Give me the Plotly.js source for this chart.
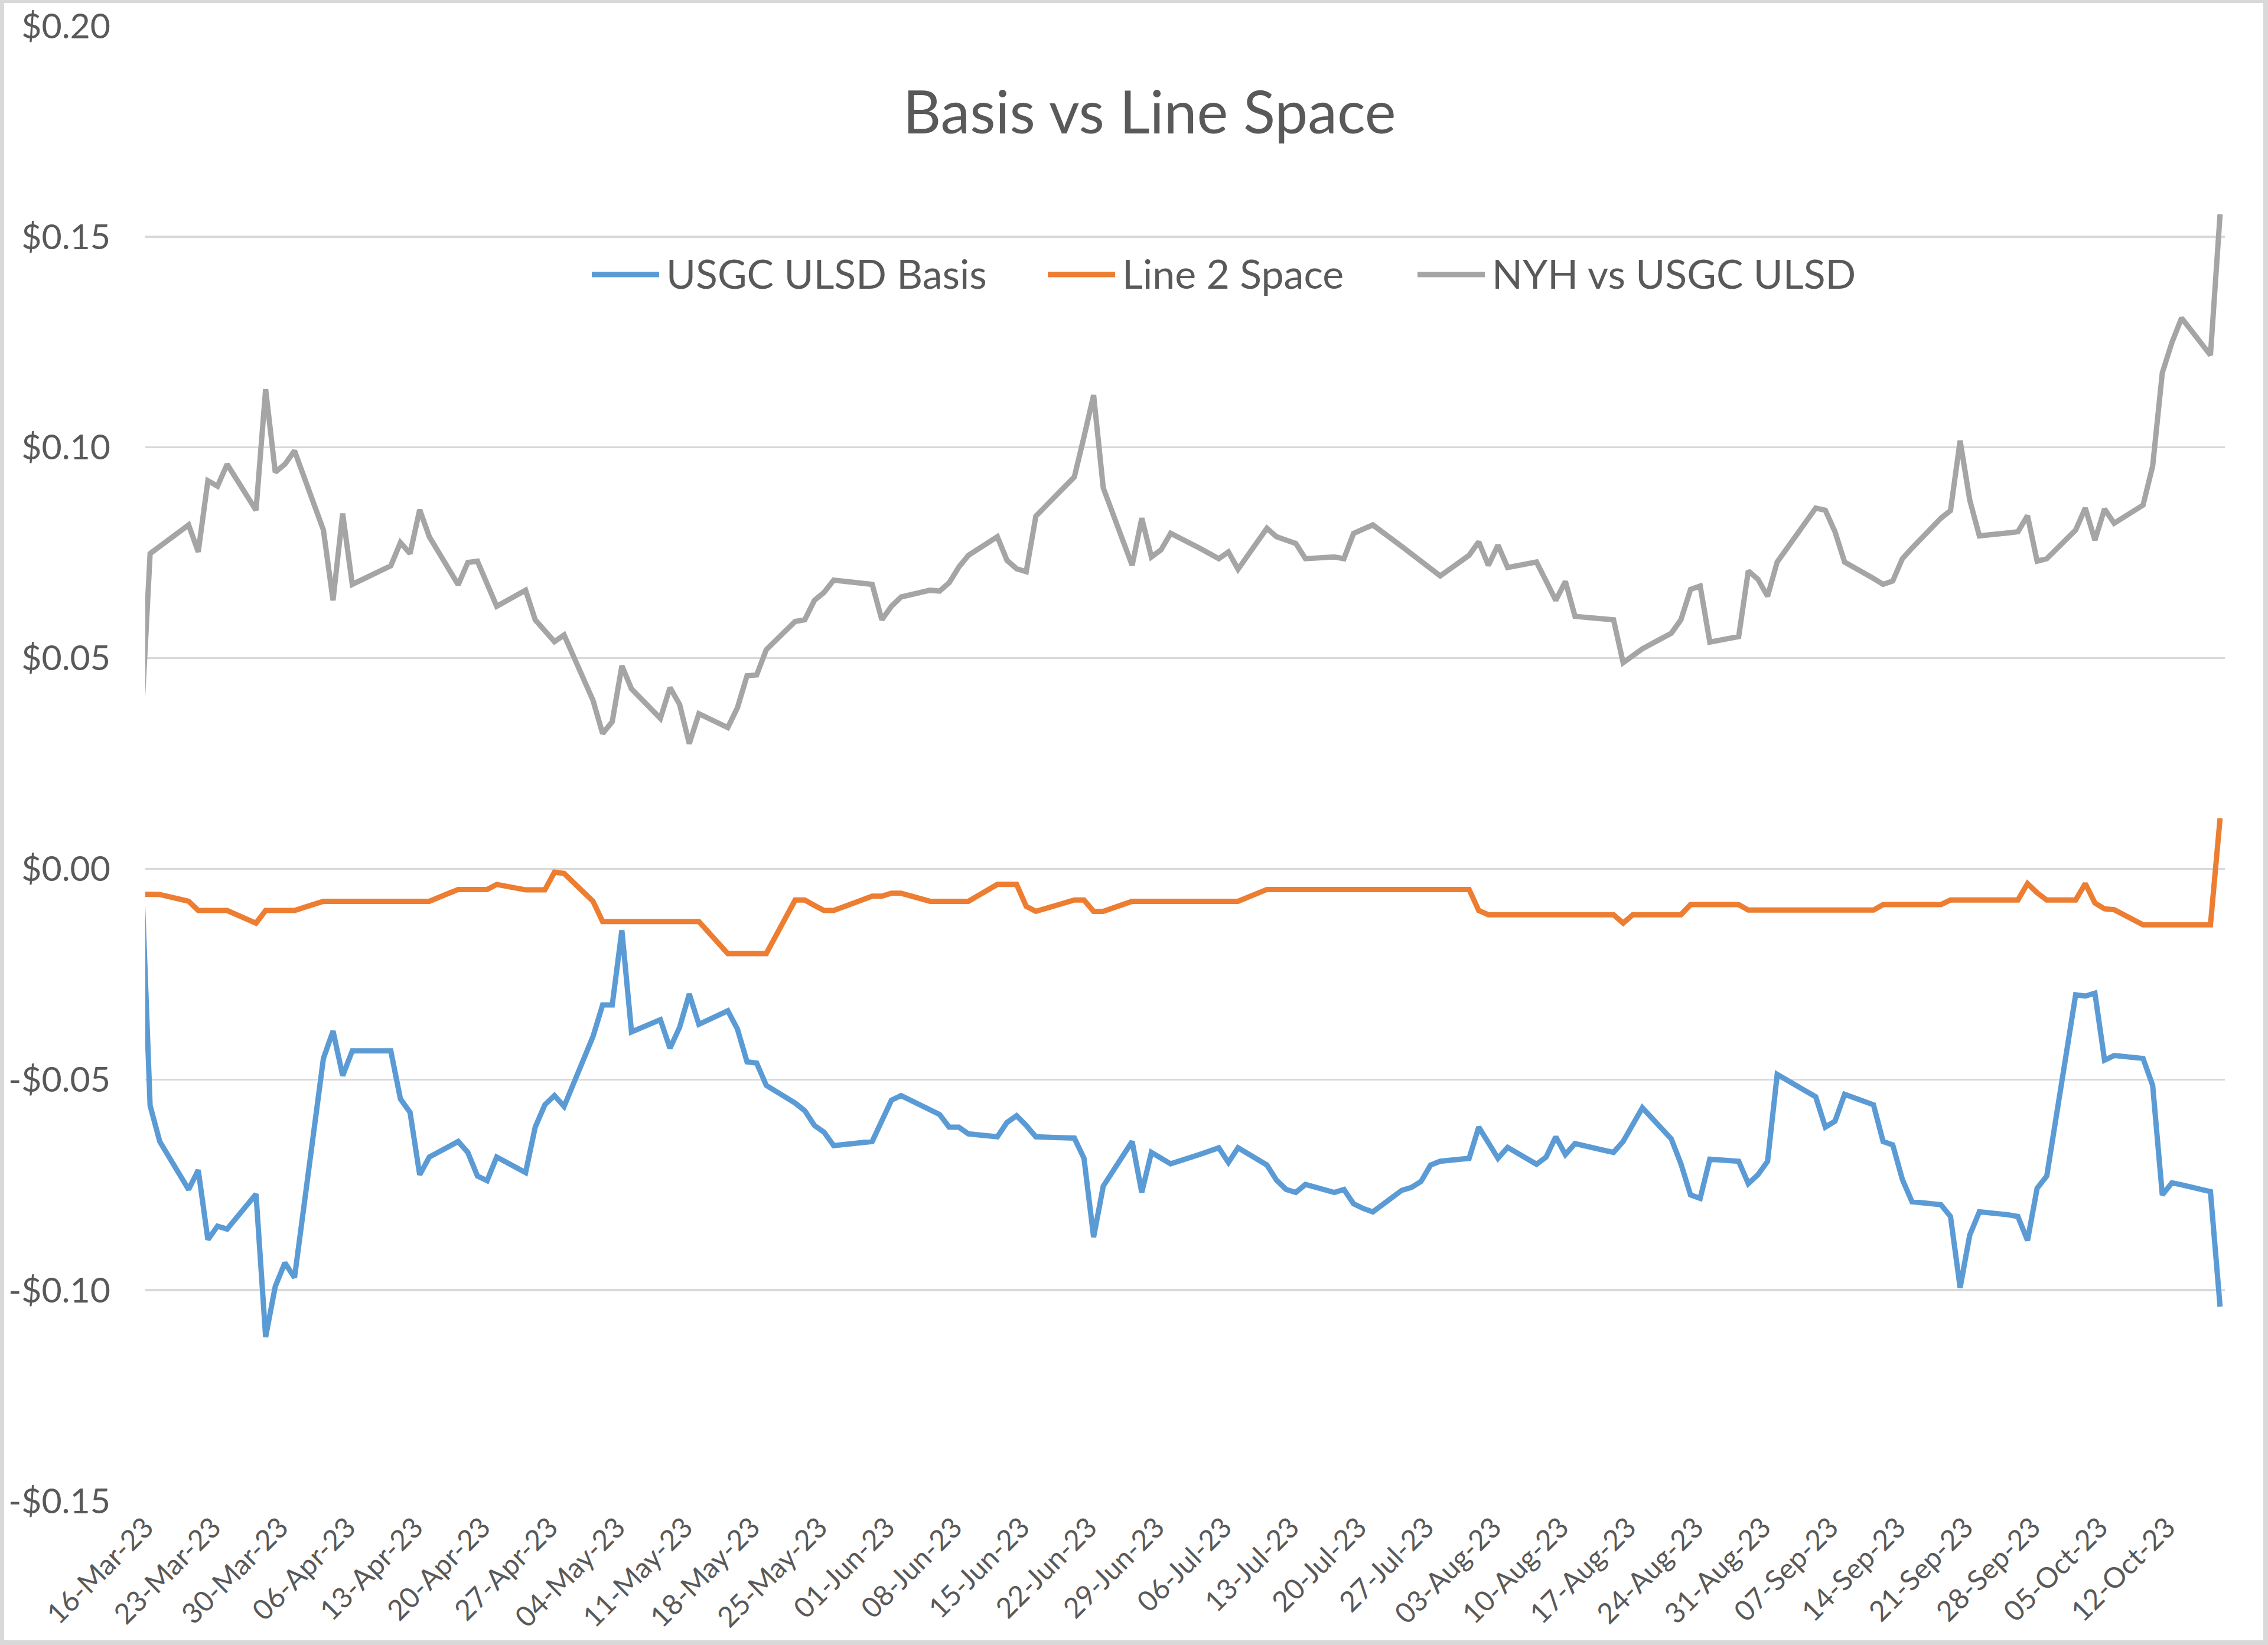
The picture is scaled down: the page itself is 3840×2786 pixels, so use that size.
<!DOCTYPE html>
<html>
<head>
<meta charset="utf-8">
<script src="https://cdn.plot.ly/plotly-3.0.1.min.js"></script>
<style>
  html, body { margin: 0; padding: 0; background: #ffffff; }
  #chart { position: absolute; left: 0; top: 0; width: 3840px; height: 2786px; }
  #frame { position: absolute; left: 0; top: 0; width: 3840px; height: 2786px; box-sizing: border-box;
           border-style: solid; border-color: #D9D9D9; border-width: 5px 8px 8px 7px; pointer-events: none; }
</style>
</head>
<body>
<div id="chart"></div>
<div id="frame"></div>
<script>
const dates = [
'2023-03-15','2023-03-16','2023-03-17','2023-03-20','2023-03-21','2023-03-22','2023-03-23','2023-03-24','2023-03-27','2023-03-28','2023-03-29','2023-03-30','2023-03-31',
'2023-04-03','2023-04-04','2023-04-05','2023-04-06','2023-04-10','2023-04-11','2023-04-12','2023-04-13','2023-04-14','2023-04-17','2023-04-18','2023-04-19','2023-04-20','2023-04-21','2023-04-24','2023-04-25','2023-04-26','2023-04-27','2023-04-28',
'2023-05-01','2023-05-02','2023-05-03','2023-05-04','2023-05-05','2023-05-08','2023-05-09','2023-05-10','2023-05-11','2023-05-12','2023-05-15','2023-05-16','2023-05-17','2023-05-18','2023-05-19','2023-05-22','2023-05-23','2023-05-24','2023-05-25','2023-05-26','2023-05-30','2023-05-31',
'2023-06-01','2023-06-02','2023-06-05','2023-06-06','2023-06-07','2023-06-08','2023-06-09','2023-06-12','2023-06-13','2023-06-14','2023-06-15','2023-06-16','2023-06-20','2023-06-21','2023-06-22','2023-06-23','2023-06-26','2023-06-27','2023-06-28','2023-06-29','2023-06-30',
'2023-07-03','2023-07-05','2023-07-06','2023-07-07','2023-07-10','2023-07-11','2023-07-12','2023-07-13','2023-07-14','2023-07-17','2023-07-18','2023-07-19','2023-07-20','2023-07-21','2023-07-24','2023-07-25','2023-07-26','2023-07-27','2023-07-28','2023-07-31',
'2023-08-01','2023-08-02','2023-08-03','2023-08-04','2023-08-07','2023-08-08','2023-08-09','2023-08-10','2023-08-11','2023-08-14','2023-08-15','2023-08-16','2023-08-17','2023-08-18','2023-08-21','2023-08-22','2023-08-23','2023-08-24','2023-08-25','2023-08-28','2023-08-29','2023-08-30','2023-08-31',
'2023-09-01','2023-09-05','2023-09-06','2023-09-07','2023-09-08','2023-09-11','2023-09-12','2023-09-13','2023-09-14','2023-09-15','2023-09-18','2023-09-19','2023-09-20','2023-09-21','2023-09-22','2023-09-25','2023-09-26','2023-09-27','2023-09-28','2023-09-29',
'2023-10-02','2023-10-03','2023-10-04','2023-10-05','2023-10-06','2023-10-09','2023-10-10','2023-10-11','2023-10-12','2023-10-13','2023-10-16','2023-10-17'
];

const usgcUlsdBasis = [
0.005,-0.0562,-0.0647,-0.0761,-0.0715,-0.0880,-0.0848,-0.0855,-0.0772,-0.1111,-0.0991,-0.0935,-0.0970,
-0.0450,-0.0385,-0.0491,-0.0432,-0.0432,-0.0546,-0.0578,-0.0726,-0.0684,-0.0647,-0.0673,-0.0729,-0.0740,-0.0684,-0.0721,-0.0613,-0.0560,-0.0538,-0.0564,
-0.0398,-0.0323,-0.0323,-0.0146,-0.0387,-0.0358,-0.0426,-0.0376,-0.0297,-0.0369,-0.0337,-0.0380,-0.0458,-0.0461,-0.0514,-0.0556,-0.0574,-0.0609,-0.0625,-0.0657,-0.0647,-0.0598,
-0.0549,-0.0538,-0.0574,-0.0583,-0.0613,-0.0613,-0.0629,-0.0636,-0.0602,-0.0586,-0.0609,-0.0636,-0.0639,-0.0687,-0.0874,-0.0753,-0.0647,-0.0768,-0.0673,-0.0687,-0.0700,
-0.0678,-0.0662,-0.0697,-0.0662,-0.0703,-0.0739,-0.0761,-0.0768,-0.0749,-0.0768,-0.0761,-0.0795,-0.0806,-0.0814,-0.0763,-0.0756,-0.0742,-0.0703,-0.0694,-0.0687,
-0.0613,-0.0650,-0.0687,-0.0661,-0.0701,-0.0684,-0.0636,-0.0678,-0.0652,-0.0668,-0.0673,-0.0647,-0.0607,-0.0567,-0.0641,-0.0700,-0.0774,-0.0782,-0.0689,-0.0694,-0.0747,-0.0726,-0.0694,
-0.0488,-0.0541,-0.0613,-0.0599,-0.0535,-0.0560,-0.0647,-0.0655,-0.0737,-0.0790,-0.0797,-0.0825,-0.0994,-0.0869,-0.0814,-0.0821,-0.0825,-0.0882,-0.0758,-0.0729,
-0.0299,-0.0302,-0.0295,-0.0454,-0.0443,-0.0450,-0.0514,-0.0774,-0.0745,-0.0750,-0.0766,-0.1039
];

const line2Space = [
-0.0060,-0.0061,-0.0061,-0.0077,-0.0099,-0.0099,-0.0099,-0.0099,-0.0129,-0.0099,-0.0099,-0.0099,-0.0099,
-0.0077,-0.0077,-0.0077,-0.0077,-0.0077,-0.0077,-0.0077,-0.0077,-0.0077,-0.0049,-0.0049,-0.0049,-0.0049,-0.0037,-0.0050,-0.0050,-0.0050,-0.0008,-0.0011,
-0.0077,-0.0125,-0.0125,-0.0125,-0.0125,-0.0125,-0.0125,-0.0125,-0.0125,-0.0125,-0.0201,-0.0201,-0.0201,-0.0201,-0.0201,-0.0074,-0.0074,-0.0087,-0.0099,-0.0099,-0.0065,-0.0065,
-0.0058,-0.0058,-0.0077,-0.0077,-0.0077,-0.0077,-0.0077,-0.0037,-0.0037,-0.0037,-0.0089,-0.0101,-0.0074,-0.0074,-0.0101,-0.0101,-0.0077,-0.0077,-0.0077,-0.0077,-0.0077,
-0.0077,-0.0077,-0.0077,-0.0077,-0.0049,-0.0049,-0.0049,-0.0049,-0.0049,-0.0049,-0.0049,-0.0049,-0.0049,-0.0049,-0.0049,-0.0049,-0.0049,-0.0049,-0.0049,-0.0049,
-0.0099,-0.0109,-0.0109,-0.0109,-0.0109,-0.0109,-0.0109,-0.0109,-0.0109,-0.0109,-0.0109,-0.0129,-0.0109,-0.0109,-0.0109,-0.0109,-0.0085,-0.0085,-0.0085,-0.0085,-0.0098,-0.0098,-0.0098,
-0.0098,-0.0098,-0.0098,-0.0098,-0.0098,-0.0098,-0.0085,-0.0085,-0.0085,-0.0085,-0.0085,-0.0074,-0.0074,-0.0074,-0.0074,-0.0074,-0.0074,-0.0035,-0.0057,-0.0074,
-0.0074,-0.0035,-0.0081,-0.0095,-0.0097,-0.0133,-0.0133,-0.0133,-0.0133,-0.0133,-0.0133,0.0120
];

const nyhVsUsgcUlsd = [
0.031,0.0748,0.0765,0.0816,0.0752,0.0921,0.0908,0.0960,0.0851,0.1138,0.0941,0.0960,0.0992,
0.0804,0.0637,0.0843,0.0675,0.0719,0.0774,0.0748,0.0852,0.0788,0.0674,0.0727,0.0730,0.0680,0.0623,0.0661,0.0591,0.0565,0.0539,0.0555,
0.0400,0.0321,0.0349,0.0482,0.0427,0.0357,0.0430,0.0390,0.0297,0.0368,0.0335,0.0382,0.0458,0.0460,0.0520,0.0587,0.0591,0.0637,0.0656,0.0685,0.0675,0.0591,
0.0623,0.0645,0.0661,0.0659,0.0679,0.0716,0.0744,0.0788,0.0732,0.0712,0.0705,0.0837,0.0930,0.1025,0.1124,0.0904,0.0720,0.0832,0.0740,0.0757,0.0796,
0.0761,0.0736,0.0752,0.0711,0.0808,0.0788,0.0780,0.0772,0.0736,0.0740,0.0736,0.0796,0.0806,0.0816,0.0765,0.0748,0.0732,0.0712,0.0695,0.0744,
0.0776,0.0720,0.0768,0.0715,0.0728,0.0683,0.0637,0.0682,0.0599,0.0593,0.0591,0.0489,0.0506,0.0522,0.0559,0.0591,0.0663,0.0671,0.0538,0.0551,0.0707,0.0687,0.0647,
0.0728,0.0856,0.0851,0.0800,0.0728,0.0689,0.0675,0.0683,0.0736,0.0761,0.0832,0.0850,0.1016,0.0875,0.0790,0.0797,0.0800,0.0838,0.0730,0.0736,
0.0804,0.0856,0.0780,0.0854,0.0820,0.0863,0.0956,0.1177,0.1249,0.1307,0.1219,0.1553
];

const seriesNames = ['USGC ULSD Basis', 'Line 2 Space', 'NYH vs USGC ULSD'];
const seriesColors = ['#5B9BD5', '#ED7D31', '#A5A5A5'];
const yTickVals = [-0.15, -0.10, -0.05, 0.00, 0.05, 0.10, 0.15, 0.20];
const yTickText = ['-$0.15', '-$0.10', '-$0.05', '$0.00', '$0.05', '$0.10', '$0.15', '$0.20'];
const chartTitle = 'Basis vs Line Space';

const DAY = 86400000;
const FONT = 'Lato, "Open Sans", sans-serif';
const TXT = '#595959';
const GRID = '#D9D9D9';
const LINE_W = 9;

function lineTrace(i, y) {
  return {
    type: 'scatter', mode: 'lines', name: seriesNames[i],
    x: dates, y: y,
    xperiod: DAY, xperiodalignment: 'middle',
    line: { color: seriesColors[i], width: LINE_W },
    showlegend: false,
    hoverinfo: 'skip'
  };
}

const data = [
  lineTrace(0, usgcUlsdBasis),
  lineTrace(1, line2Space),
  lineTrace(2, nyhVsUsgcUlsd)
];

/* legend drawn as key samples + labels (paper coordinates of the plot area) */
const W = 3840, H = 2786, ML = 246, MR = 73, MT = 44, MB = 244;
const PW = W - ML - MR, PH = H - MT - MB;
const px = v => (v - ML) / PW;
const py = v => (H - MB - v) / PH;
const legendY = 465;
const legendSampleStart = [1002, 1774, 2400];
const legendSampleLen = 114;
const legendTextGap = 10;

const shapes = [];
const annotations = [];
for (let i = 0; i < 3; i++) {
  const x0 = legendSampleStart[i];
  shapes.push({
    type: 'line', xref: 'paper', yref: 'paper', layer: 'above',
    x0: px(x0), x1: px(x0 + legendSampleLen), y0: py(legendY), y1: py(legendY),
    line: { color: seriesColors[i], width: LINE_W }
  });
  annotations.push({
    xref: 'paper', yref: 'paper',
    x: px(x0 + legendSampleLen + legendTextGap), y: py(legendY - 2),
    xanchor: 'left', yanchor: 'middle',
    text: seriesNames[i], showarrow: false,
    font: { family: FONT, size: 68, color: TXT }
  });
}

const xRange = ['2023-03-16', '2023-10-18'];

const layout = {
  width: W, height: H,
  paper_bgcolor: '#ffffff', plot_bgcolor: '#ffffff',
  margin: { l: ML, r: MR, t: MT, b: MB, pad: 0 },
  font: { family: FONT, color: TXT },
  showlegend: false,
  title: {
    text: chartTitle,
    font: { family: FONT, size: 100, color: TXT },
    xref: 'container', yref: 'container',
    x: 0.5068, xanchor: 'center', y: 1 - 191 / H, yanchor: 'middle'
  },
  shapes: shapes,
  annotations: annotations,
  xaxis: {
    type: 'date',
    range: xRange,
    tick0: '2023-03-16', dtick: 7 * DAY,
    tickformat: '%d-%b-%y',
    tickangle: -45,
    ticks: '',
    showline: false, showgrid: false, zeroline: false,
    tickfont: { family: FONT, size: 48, color: TXT },
    ticklabelstandoff: 6,
    fixedrange: true
  },
  xaxis2: {
    type: 'date',
    overlaying: 'x', matches: 'x',
    range: xRange,
    anchor: 'free', position: 0.15 / 0.35, side: 'bottom',
    tick0: '2023-03-16', dtick: 7 * DAY,
    ticks: 'outside', ticklen: 18, tickwidth: 3, tickcolor: GRID,
    showline: true, linecolor: GRID, linewidth: 3,
    showticklabels: false, showgrid: false, zeroline: false
  },
  yaxis: {
    range: [-0.15, 0.20],
    tickvals: yTickVals, ticktext: yTickText,
    ticks: '',
    showline: false, zeroline: false,
    showgrid: true, gridcolor: GRID, gridwidth: 3.5,
    tickfont: { family: FONT, size: 59, color: TXT },
    ticklabelstandoff: 58,
    fixedrange: true
  }
};

Plotly.newPlot('chart', data, layout, { displayModeBar: false, staticPlot: true });
</script>
</body>
</html>
